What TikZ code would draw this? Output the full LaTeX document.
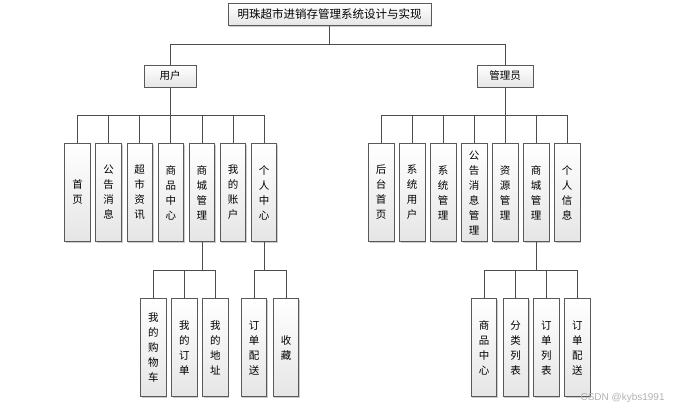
\documentclass[tikz,border=0pt]{standalone}
\usepackage{fontspec}
\newfontfamily\cjk{Noto Sans CJK SC}
\usetikzlibrary{positioning,shadows}

\tikzset{
	box/.style={draw=black!65, line width=0.8pt, top color=white, bottom color=black!10,
		drop shadow={shadow xshift=1.2pt, shadow yshift=-1.2pt, fill=black!40, opacity=0.5},
		font=\cjk\fontsize{10.5}{15}\selectfont, inner sep=0pt, align=center},
	hbox/.style={box, minimum height=22pt},
	vbox/.style={box, minimum width=25.5pt, minimum height=98pt},
	link/.style={draw=black!70, line width=0.8pt},
}

\begin{document}
\begin{tikzpicture}[x=1pt, y=-1pt]
	\useasboundingbox (0,0) rectangle (687,412);
	%\draw[help lines] (0,0) grid (687,412);
	\node[hbox, minimum width=203pt, font=\cjk\fontsize{11.5}{14}\selectfont] (root) at (329.5,14.5) {明珠超市进销存管理系统设计与实现};
	\node[hbox, minimum width=52pt] (user) at (170,76) {用户};
	\node[hbox, minimum width=56pt] (admin) at (505,76) {管理员};

	\coordinate (rootbus) at (329.5,44.3);
	\draw[link] (root.south) -- (rootbus);
	\draw[link] (user.north) |- (rootbus) -| (admin.north);

	% second row
	\foreach \i/\t in {1/{首\\页}, 2/{公\\告\\消\\息}, 3/{超\\市\\资\\讯}, 4/{商\\品\\中\\心},
		5/{商\\城\\管\\理}, 6/{我\\的\\账\\户}, 7/{个\\人\\中\\心}}
		\node[vbox] (u\i) at ({77.5+31.1*(\i-1)},192.5) {\t};
	\foreach \i/\t in {1/{后\\台\\首\\页}, 2/{系\\统\\用\\户}, 3/{系\\统\\管\\理}, 4/{公\\告\\消\\息\\管\\理},
		5/{资\\源\\管\\理}, 6/{商\\城\\管\\理}, 7/{个\\人\\信\\息}}
		\node[vbox] (a\i) at ({381.2+31*(\i-1)},192.5) {\t};

	\coordinate (ubus) at (170,115);
	\coordinate (abus) at (505,115);
	\draw[link] (user.south) -- (ubus);
	\draw[link] (admin.south) -- (abus);
	\foreach \i in {1,...,7} {
		\draw[link] (u\i.north) |- (ubus);
		\draw[link] (a\i.north) |- (abus);
	}

	% third row
	\node[vbox] (u51) at (153.3,347.8) {我\\的\\购\\物\\车};
	\node[vbox] (u52) at (184.3,347.8) {我\\的\\订\\单};
	\node[vbox] (u53) at (215.3,347.8) {我\\的\\地\\址};
	\node[vbox] (u71) at (254,347.8) {订\\单\\配\\送};
	\node[vbox] (u72) at (286,347.8) {收\\藏};
	\node[vbox] (a61) at (484,347.8) {商\\品\\中\\心};
	\node[vbox] (a62) at (515.7,347.8) {分\\类\\列\\表};
	\node[vbox] (a63) at (546.3,347.8) {订\\单\\列\\表};
	\node[vbox] (a64) at (577.3,347.8) {订\\单\\配\\送};

	\coordinate (u5bus) at (u5.south |- 0,270.7);
	\coordinate (u7bus) at (u7.south |- 0,270.7);
	\coordinate (a6bus) at (a6.south |- 0,270.7);
	\draw[link] (u5.south) -- (u5bus);
	\draw[link] (u7.south) -- (u7bus);
	\draw[link] (a6.south) -- (a6bus);
	\foreach \n in {u51,u52,u53}
		\draw[link] (\n.north) |- (u5bus);
	\foreach \n in {u71,u72}
		\draw[link] (\n.north) |- (u7bus);
	\foreach \n in {a61,a62,a63,a64}
		\draw[link] (\n.north) |- (a6bus);

	\node[text=black!30, font=\fontspec{Liberation Sans}\fontsize{10}{12}\selectfont, anchor=west] (wm) at (577,398) {CSDN @kybs1991};
\end{tikzpicture}
\end{document}
